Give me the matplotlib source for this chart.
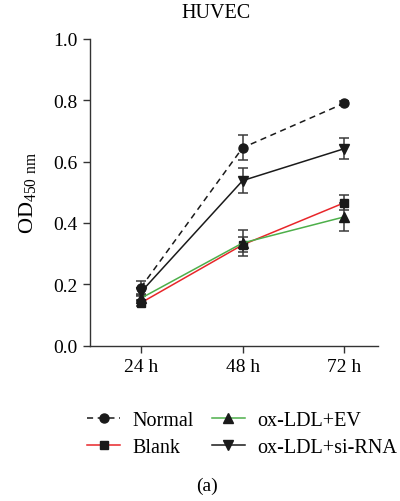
import numpy as np
import matplotlib
matplotlib.use("Agg")
import matplotlib.pyplot as plt
from matplotlib.lines import Line2D

plt.rcParams['font.family'] = ['Liberation Serif', 'DejaVu Serif']
plt.rcParams['mathtext.fontset'] = 'custom'
plt.rcParams['mathtext.rm'] = 'Liberation Serif'

times = ["24 h", "48 h", "72 h"]
normal = [0.19, 0.645, 0.79]
normal_err = [0.022, 0.04, 0.006]
blank = [0.14, 0.329, 0.466]
blank_err = [0.01, 0.025, 0.025]
ev = [0.155, 0.335, 0.42]
ev_err = [0.01, 0.042, 0.045]
sirna = [0.175, 0.538, 0.642]
sirna_err = [0.012, 0.042, 0.035]

x = np.arange(len(times))
dark = '#1a1a1a'
red = '#e8262a'
green = '#4daf4a'
dash = (0, (4, 3))

fig = plt.figure(figsize=(4, 5.02), dpi=100)
ax = fig.add_axes([0.225, 0.309, 0.72, 0.612])

ekw = dict(ecolor='#3a3a3a', elinewidth=1.1, capsize=3.4, capthick=1.1)
ax.errorbar(x, normal, yerr=normal_err, color=dark, ls=dash, lw=1.1,
            marker='o', ms=6.5, **ekw)
ax.errorbar(x, blank, yerr=blank_err, color=red, lw=1.1, marker='s', ms=6,
            mfc=dark, mec=dark, **ekw)
ax.errorbar(x, ev, yerr=ev_err, color=green, lw=1.1, marker='^', ms=6.5,
            mfc=dark, mec=dark, **ekw)
ax.errorbar(x, sirna, yerr=sirna_err, color=dark, lw=1.1, marker='v', ms=6.5, **ekw)

ax.set_xlim(-0.5, 2.33)
ax.set_ylim(0, 1.0)
ax.set_xticks(x)
ax.set_xticklabels(times)
yt = np.arange(0, 1.01, 0.2)
ax.set_yticks(yt)
ax.set_yticklabels([f"{v:.1f}" for v in yt])
ax.tick_params(labelsize=14, length=5, width=1, color='#333333', pad=4)
for s in ['top', 'right']:
    ax.spines[s].set_visible(False)
for s in ['left', 'bottom']:
    ax.spines[s].set_linewidth(1)
    ax.spines[s].set_color('#333333')

fig.text(0.54, 1 - 14 / 502, "HUVEC", ha='center', va='center', fontsize=14.5)
ax.set_ylabel(r"OD$_{\mathregular{450\ nm}}$", fontsize=16, labelpad=10)

handles = [
    Line2D([], [], color=dark, ls=dash, lw=1.1, marker='o', ms=6.5),
    Line2D([], [], color=red, lw=1.1, marker='s', ms=6, mfc=dark, mec=dark),
    Line2D([], [], color=green, lw=1.1, marker='^', ms=6.5, mfc=dark, mec=dark),
    Line2D([], [], color=dark, lw=1.1, marker='v', ms=6.5),
]
fig.legend(handles=handles, labels=['Normal', 'Blank', 'ox-LDL+EV', 'ox-LDL+si-RNA'],
           ncol=2, loc='center', bbox_to_anchor=(0.605, 0.133), frameon=False,
           prop={'family': ['Liberation Serif', 'DejaVu Serif'], 'size': 14.5},
           numpoints=1, handlelength=1.65, columnspacing=0.9,
           labelspacing=0.4, handletextpad=0.6, borderpad=0)
fig.text(0.5175, 0.032, "(a)", ha='center', va='center', fontsize=14)

fig.savefig("out.png", dpi=100)
